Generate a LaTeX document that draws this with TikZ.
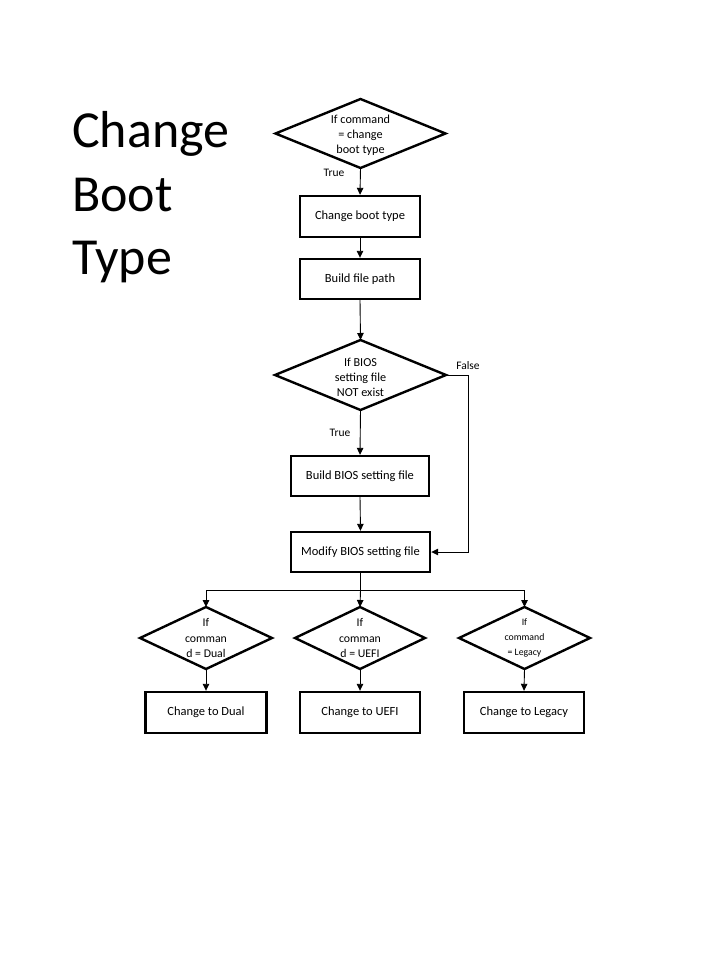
\documentclass[tikz,border=0pt]{standalone}
\usepackage{fontspec}
\setmainfont{Carlito}
\usetikzlibrary{shapes.geometric,arrows.meta}
\begin{document}
\begin{tikzpicture}[x=1pt,y=-1pt,
  box/.style={draw,line width=2.4pt,inner sep=0pt,font=\fontsize{12.5}{15}\selectfont},
  dia/.style={draw,diamond,line width=2.4pt,inner sep=0pt,outer sep=0pt},
  dtxt/.style={align=center,inner sep=0pt,font=\fontsize{12.2}{15}\selectfont},
  conn/.style={line width=0.9pt,-{Triangle[length=7pt,width=6.5pt]}},
  line/.style={line width=0.9pt},
  lbl/.style={font=\fontsize{11.5}{13}\selectfont,inner sep=0pt},
  ttl/.style={font=\fontsize{52}{63}\selectfont,anchor=base west,inner sep=0pt}]
\useasboundingbox (0,0) rectangle (720,960);
\fill[white] (0,0) rectangle (720,960);
% title
\node[ttl] (t1) at (72,148) {Change};
\node[ttl] (t2) at (72,211) {Boot};
\node[ttl] (t3) at (72,274) {Type};
% main column
\node[dia,minimum width=170pt,minimum height=69pt] (d1) at (360.5,133.5) {};
\node[dtxt] (d1t) at ([yshift=-2pt]d1.center) {If command\\= change\\boot type};
\node[box,minimum width=120pt,minimum height=41pt] (b1) at (360,216.5) {Change boot type};
\node[box,minimum width=120pt,minimum height=40pt] (b2) at (360,279) {Build file path};
\node[dia,minimum width=171pt,minimum height=70pt] (d2) at (360.5,375) {};
\node[dtxt] (d2t) at ([yshift=-2pt]d2.center) {If BIOS\\setting file\\NOT exist};
\node[box,minimum width=138pt,minimum height=40pt] (b3) at (360,476) {Build BIOS setting file};
\node[box,minimum width=139pt,minimum height=40pt] (b4) at (360.5,552) {Modify BIOS setting file};
% bottom row
\node[dia,minimum width=132pt,minimum height=62pt] (d3) at (206,638) {};
\node[dtxt,font=\fontsize{11.8}{15.5}\selectfont] (d3t) at (d3.center) {If\\comman\\d = Dual};
\node[dia,minimum width=130pt,minimum height=62pt] (d4) at (360,638) {};
\node[dtxt,font=\fontsize{11.8}{15.5}\selectfont] (d4t) at (d4.center) {If\\comman\\d = UEFI};
\node[dia,minimum width=131pt,minimum height=62pt] (d5) at (524.5,638) {};
\node[dtxt,font=\fontsize{9.8}{15}\selectfont] (d5t) at (d5.center) {If\\command\\= Legacy};
\node[box,minimum width=121pt,minimum height=41pt] (b5) at (206,712.5) {Change to Dual};
\node[box,minimum width=120pt,minimum height=41pt] (b6) at (360,712.5) {Change to UEFI};
\node[box,minimum width=120pt,minimum height=41pt] (b7) at (524,712.5) {Change to Legacy};
% connectors
\draw[conn] (d1.south) -- (b1.north);
\node[lbl] (lt1) at (334,173) {True};
\draw[conn] (b1.south) -- (b2.north);
\draw[conn] (b2.south) -- (d2.north);
\draw[conn] (d2.south) -- (b3.north);
\node[lbl] (lt2) at (340,433) {True};
\draw[conn] (b3.south) -- (b4.north);
\coordinate (fr) at (468,375);
\draw[conn] (d2.east) -- (fr) |- (b4.east);
\node[lbl] (lf) at (468,366) {False};
\coordinate (sp) at (360.5,590);
\coordinate (sl) at (206,590);
\coordinate (sr) at (524.5,590);
\draw[line] (b4.south) -- (sp);
\draw[line] (sl) -- (sr);
\draw[conn] (sl) -- (d3.north);
\draw[conn] (sp) -- (d4.north);
\draw[conn] (sr) -- (d5.north);
\draw[conn] (d3.south) -- (b5.north);
\draw[conn] (d4.south) -- (b6.north);
\draw[conn] (d5.south) -- (b7.north);
\end{tikzpicture}
\end{document}
